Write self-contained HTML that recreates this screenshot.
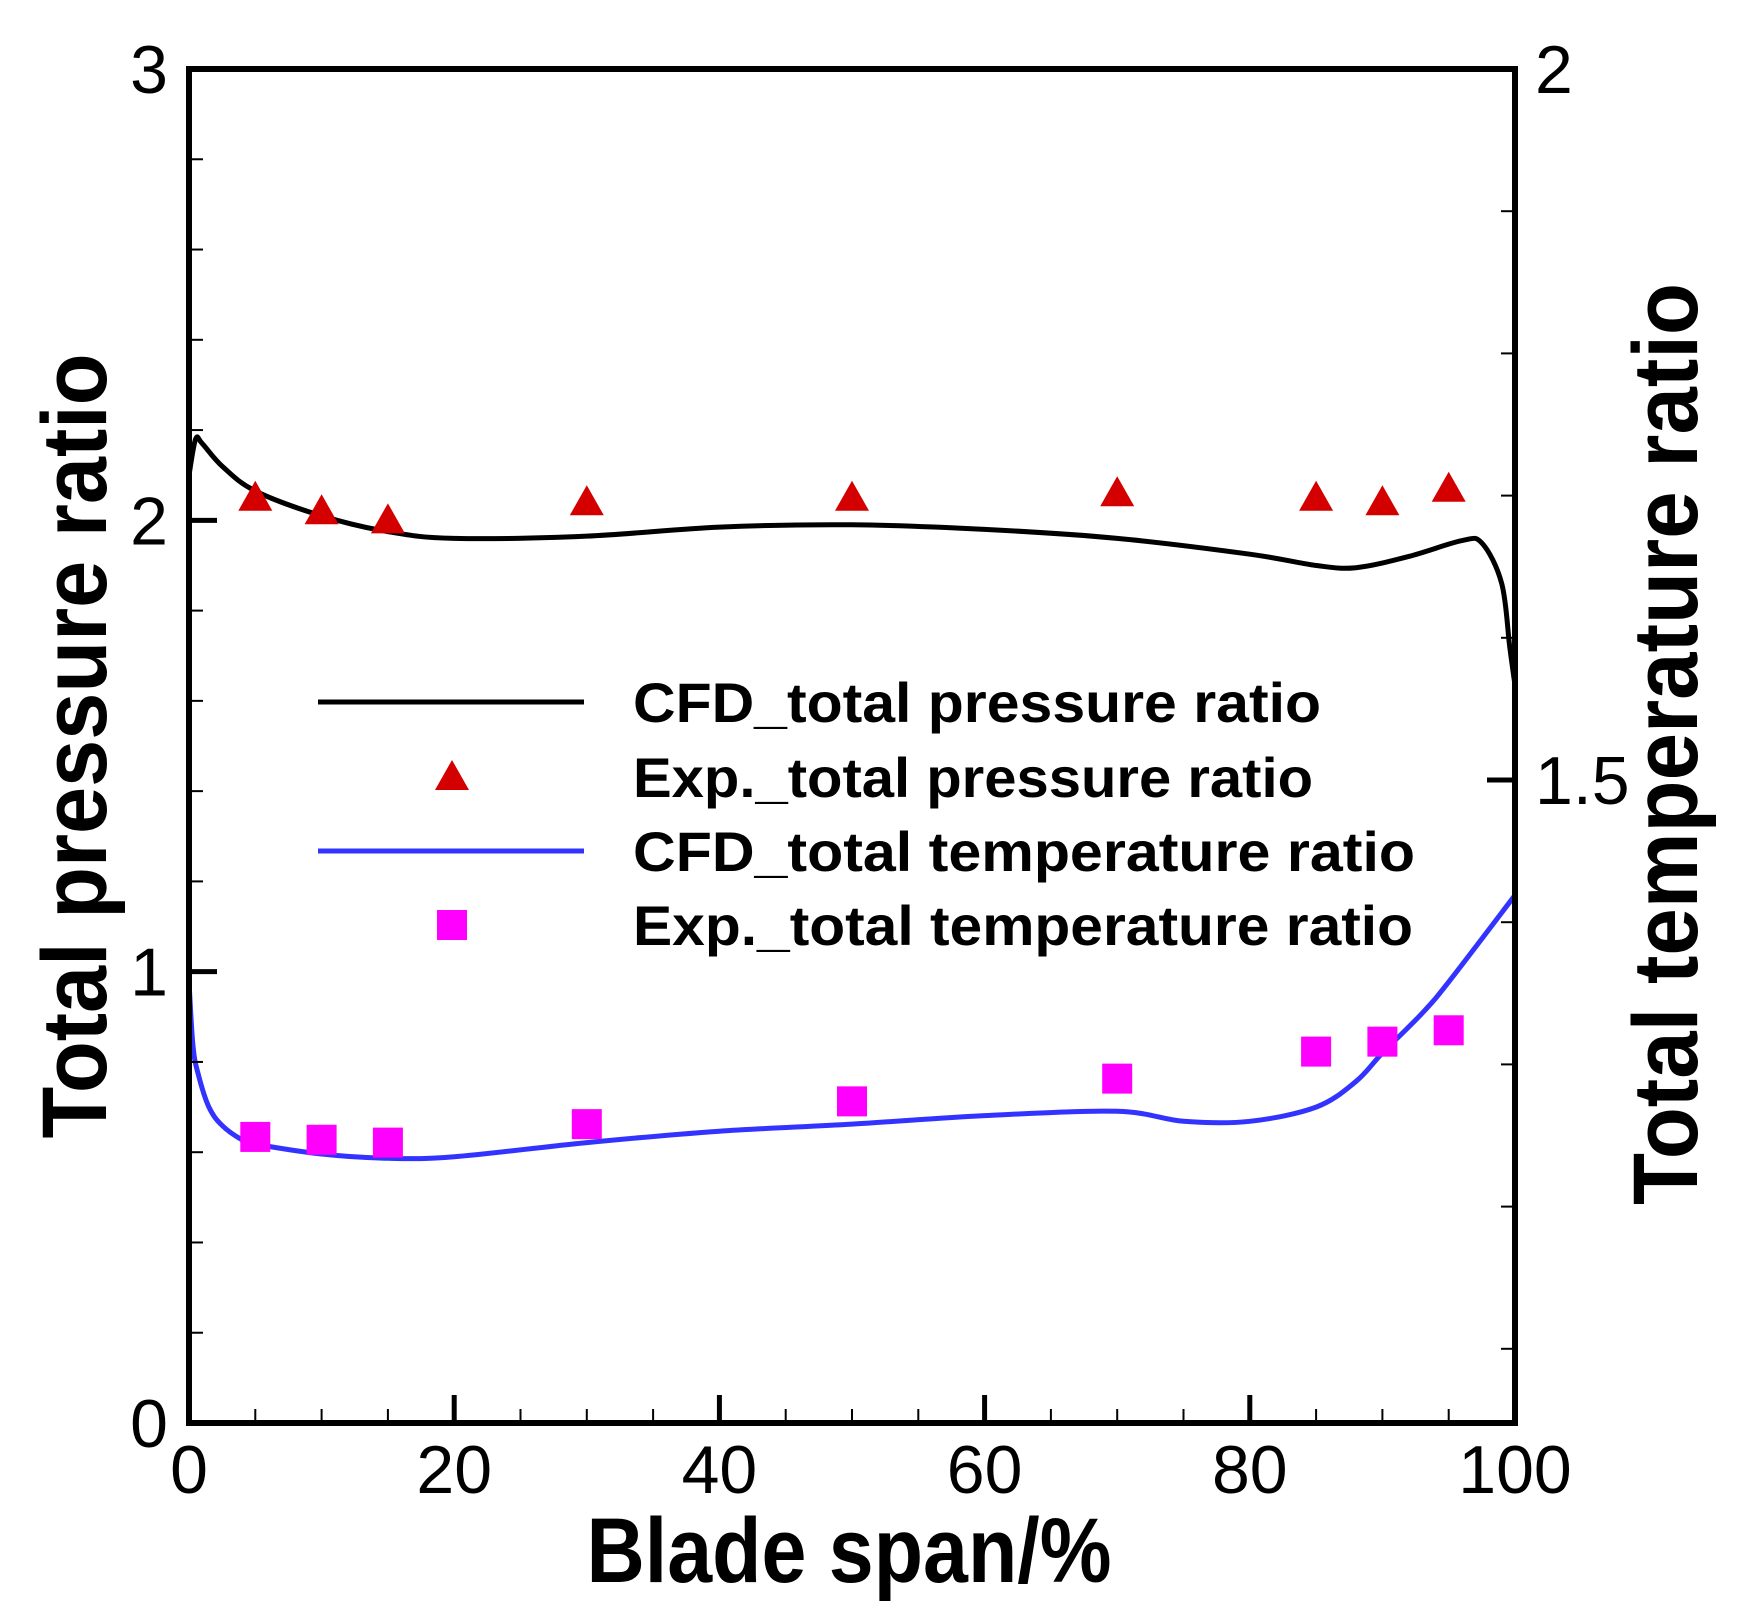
<!DOCTYPE html>
<html><head><meta charset="utf-8"><style>
html,body{margin:0;padding:0;background:#fff;}
svg{display:block;}
text{font-family:"Liberation Sans",Arial,sans-serif;}
</style></head><body>
<svg id="chart" width="1749" height="1619" viewBox="0 0 1749 1619" xmlns="http://www.w3.org/2000/svg">
<rect width="1749" height="1619" fill="#fff"/>
<g id="marks"></g>
<g id="axes"></g>
</svg>
<script>
const xTicks=[0,20,40,60,80,100];
const yLeftTicks=[0,1,2,3];
const yRightLabels=[1.5,2];
const cfdPX=[0,0.5,1,2.5,5,10,15,20,30,40,50,60,70,80,85,88,92,96,97.5,99,99.6,100];
const cfdPY=[2.10,2.18,2.17,2.12,2.065,2.01,1.975,1.96,1.965,1.985,1.99,1.98,1.96,1.925,1.90,1.895,1.92,1.955,1.95,1.86,1.72,1.635];
const expPX=[5,10,15,30,50,70,85,90,95];
const expPY=[2.05,2.02,2.0,2.04,2.05,2.06,2.05,2.04,2.07];
const cfdTX=[0,0.3,0.7,1.5,2.5,4,5,10,15,20,30,40,50,60,70,75,80,85,88,90,93,95,100];
const cfdTY=[1.358,1.313,1.293,1.270,1.257,1.247,1.244,1.237,1.234,1.235,1.245,1.253,1.258,1.264,1.267,1.260,1.260,1.270,1.288,1.308,1.336,1.358,1.419];
const expTX=[5,10,15,30,50,70,85,90,95];
const expTY=[1.249,1.247,1.245,1.258,1.274,1.290,1.309,1.316,1.324];

const X0=189,X1=1515,YT=69,YB=1423;
const RMIN=2-(YB-YT)/1422,RMAX=2;
const sx=v=>X0+(v/100)*(X1-X0);
const syL=v=>YB-(v/3)*(YB-YT);
const syR=v=>YB-((v-RMIN)/(RMAX-RMIN))*(YB-YT);
const NS="http://www.w3.org/2000/svg";
const marks=document.getElementById('marks'),axes=document.getElementById('axes');
function mk(tag,attrs,parent){const e=document.createElementNS(NS,tag);for(const k in attrs)e.setAttribute(k,attrs[k]);parent.appendChild(e);return e;}
function smooth(pts){
 let d='M'+pts[0][0].toFixed(1)+' '+pts[0][1].toFixed(1);
 for(let i=0;i<pts.length-1;i++){
  const p0=pts[Math.max(0,i-1)],p1=pts[i],p2=pts[i+1],p3=pts[Math.min(pts.length-1,i+2)];
  const t=1/6;
  const c1=[p1[0]+(p2[0]-p0[0])*t,p1[1]+(p2[1]-p0[1])*t];
  const c2=[p2[0]-(p3[0]-p1[0])*t,p2[1]-(p3[1]-p1[1])*t];
  // clamp x to keep monotone in x
  c1[0]=Math.min(Math.max(c1[0],p1[0]),p2[0]);c2[0]=Math.min(Math.max(c2[0],p1[0]),p2[0]);
  d+=` C${c1[0].toFixed(1)} ${c1[1].toFixed(1)} ${c2[0].toFixed(1)} ${c2[1].toFixed(1)} ${p2[0].toFixed(1)} ${p2[1].toFixed(1)}`;
 }
 return d;
}

let p=mk('path',{d:smooth(cfdPX.map((x,i)=>[sx(x),syL(cfdPY[i])])),fill:'none',stroke:'#000','stroke-width':5,'stroke-linejoin':'round'},marks);


p=mk('path',{d:smooth(cfdTX.map((x,i)=>[sx(x),syR(cfdTY[i])])),fill:'none',stroke:'#3333ff','stroke-width':5,'stroke-linejoin':'round'},marks);


expPX.forEach((x,i)=>{const cx=sx(x),cy=syL(expPY[i]);
 const t=mk('polygon',{points:`${cx-17},${cy+13} ${cx+17},${cy+13} ${cx},${cy-17}`,fill:'#d40000'},marks);
 
 });
expTX.forEach((x,i)=>{const cx=sx(x),cy=syR(expTY[i]);
 const r=mk('rect',{x:cx-15,y:cy-15,width:30,height:30,fill:'#ff00ff'},marks);
 
 });

for(let v=0;v<=100.01;v+=5){const major=v%20===0,L=major?28:14,w=major?5:2;
 const t=mk('line',{x1:sx(v),x2:sx(v),y1:YB,y2:YB-L,stroke:'#000','stroke-width':w},axes);
 
 }
for(let i=0;i<=15;i++){const v=i*0.2,major=i%5===0,L=major?28:14,w=major?5:2;
 const t=mk('line',{x1:X0,x2:X0+L,y1:syL(v),y2:syL(v),stroke:'#000','stroke-width':w},axes);
 
 }
for(let v=2;v>RMIN;v-=0.1){const major=Math.abs(v-1.5)<1e-6||Math.abs(v-2)<1e-6,L=major?28:14,w=major?5:2;
 const t=mk('line',{x1:X1,x2:X1-L,y1:syR(v),y2:syR(v),stroke:'#000','stroke-width':w},axes);
 
 }
const box=mk('rect',{x:X0,y:YT,width:X1-X0,height:YB-YT,fill:'none',stroke:'#000','stroke-width':6},axes);



xTicks.forEach(v=>{const t=mk('text',{x:sx(v),y:1493,'font-size':68,'text-anchor':'middle'},axes);t.textContent=v;
 
 });
yLeftTicks.forEach(v=>{const t=mk('text',{x:168,y:syL(v)+24,'font-size':68,'text-anchor':'end'},axes);t.textContent=v;
 
 });
yRightLabels.forEach(v=>{const t=mk('text',{x:1535,y:syR(v)+24,'font-size':68,'text-anchor':'start'},axes);t.textContent=v;
 
 });

let t=mk('text',{x:849,y:1582,'font-size':92,'font-weight':'bold','text-anchor':'middle',textLength:525,lengthAdjust:'spacingAndGlyphs'},axes);t.textContent='Blade span/%';


t=mk('text',{x:0,y:0,'font-size':92,'font-weight':'bold','text-anchor':'middle',textLength:785,lengthAdjust:'spacingAndGlyphs',transform:'translate(106,746) rotate(-90)'},axes);t.textContent='Total pressure ratio';


t=mk('text',{x:0,y:0,'font-size':92,'font-weight':'bold','text-anchor':'middle',textLength:922,lengthAdjust:'spacingAndGlyphs',transform:'translate(1697,744) rotate(-90)'},axes);t.textContent='Total temperature ratio';



const legTxt=['CFD_total pressure ratio','Exp._total pressure ratio','CFD_total temperature ratio','Exp._total temperature ratio'];
const legW=[688,680,782,780];
const legY=[702,777,851,925];
legTxt.forEach((s,i)=>{const y=legY[i];
 if(i===0||i===2){const l=mk('line',{x1:318,x2:584,y1:y,y2:y,stroke:i?'#3333ff':'#000','stroke-width':5},axes);
  
  }
 else if(i===1){const m=mk('polygon',{points:`${452-17},${y+13} ${452+17},${y+13} ${452},${y-17}`,fill:'#d40000'},axes);
  
  }
 else {const m=mk('rect',{x:437,y:y-15,width:30,height:30,fill:'#ff00ff'},axes);
  
  }
 const tx=mk('text',{x:633,y:y+20,'font-size':56,'font-weight':'bold',textLength:legW[i],lengthAdjust:'spacingAndGlyphs'},axes);tx.textContent=s;
 
 });
</script>
</body></html>
